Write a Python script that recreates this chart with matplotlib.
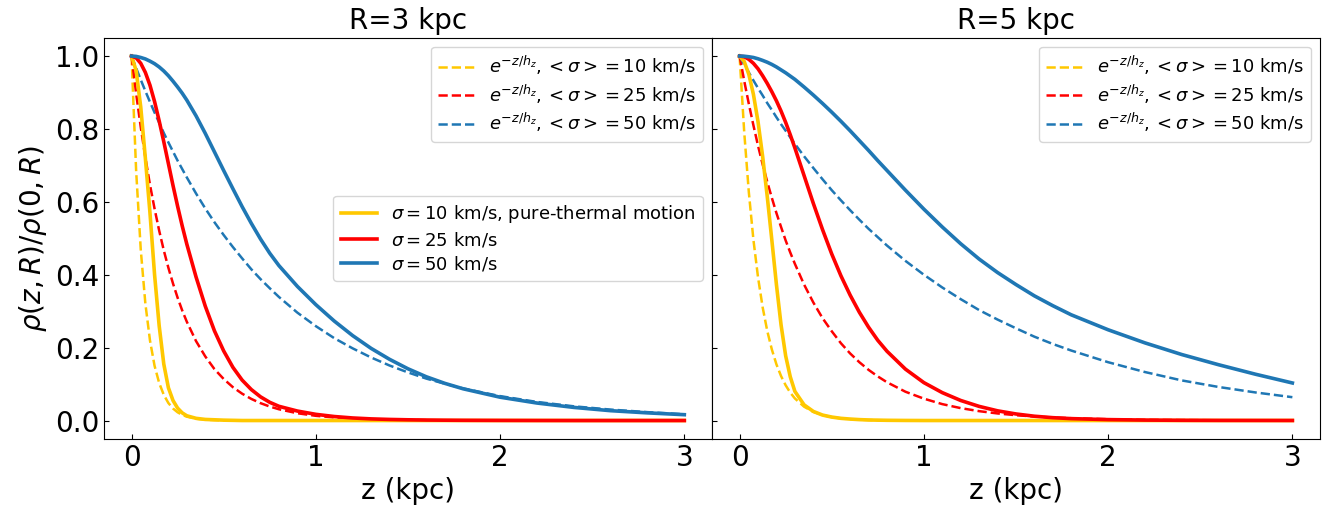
import matplotlib
matplotlib.use("Agg")
import matplotlib.pyplot as plt

z = [0, 0.025, 0.05, 0.075, 0.1, 0.125, 0.15, 0.175, 0.2, 0.225, 0.25, 0.275, 0.3, 0.35, 0.4, 0.45,
     0.5, 0.55, 0.6, 0.65, 0.7, 0.75, 0.8, 0.9, 1.0, 1.1, 1.2, 1.3, 1.4, 1.5, 1.6, 1.7, 1.8, 2.0,
     2.2, 2.4, 2.6, 2.8, 3.0]

# R = 3 kpc, dashed = exponential, solid = model
r3_exp10 = [1.0, 0.685, 0.469, 0.321, 0.220, 0.150, 0.103, 0.0705, 0.048, 0.033, 0.0226, 0.0155, 0.0106,
            0.005, 0.0023, 0.0011, 0.0005, 0.0002, 0.0001, 0, 0, 0, 0, 0, 0, 0, 0, 0, 0, 0, 0, 0, 0, 0,
            0, 0, 0, 0, 0]
r3_exp25 = [1.0, 0.897, 0.805, 0.722, 0.647, 0.581, 0.521, 0.467, 0.419, 0.376, 0.337, 0.302, 0.271,
            0.218, 0.176, 0.141, 0.114, 0.0915, 0.0737, 0.0593, 0.0477, 0.0384, 0.0309, 0.020, 0.0129,
            0.0084, 0.0054, 0.0035, 0.0023, 0.0015, 0.001, 0.0006, 0.0004, 0.0002, 0.0001, 0, 0, 0, 0]
r3_exp50 = [1.0, 0.967, 0.935, 0.904, 0.874, 0.845, 0.817, 0.789, 0.763, 0.738, 0.713, 0.690, 0.667,
            0.623, 0.582, 0.544, 0.509, 0.476, 0.445, 0.415, 0.388, 0.363, 0.339, 0.296, 0.259, 0.226,
            0.198, 0.173, 0.151, 0.132, 0.115, 0.101, 0.088, 0.067, 0.051, 0.039, 0.030, 0.023, 0.017]
r3_sig10 = [1.0, 0.96, 0.86, 0.72, 0.57, 0.40, 0.26, 0.155, 0.09, 0.055, 0.034, 0.021, 0.013,
            0.006, 0.003, 0.002, 0.001, 0.0005, 0, 0, 0, 0, 0, 0, 0, 0, 0, 0, 0, 0, 0, 0, 0, 0,
            0, 0, 0, 0, 0]
r3_sig25 = [1.0, 0.995, 0.98, 0.955, 0.92, 0.875, 0.822, 0.765, 0.705, 0.645, 0.588, 0.534, 0.484,
            0.394, 0.314, 0.246, 0.191, 0.146, 0.111, 0.085, 0.065, 0.05, 0.039, 0.026, 0.017, 0.011,
            0.007, 0.0045, 0.003, 0.002, 0.0013, 0.0009, 0.0006, 0.0003, 0.0001, 0, 0, 0, 0]
r3_sig50 = [1.0, 0.999, 0.996, 0.992, 0.986, 0.979, 0.97, 0.959, 0.946, 0.931, 0.915, 0.898, 0.879,
            0.836, 0.788, 0.737, 0.686, 0.636, 0.587, 0.541, 0.498, 0.459, 0.425, 0.368, 0.318, 0.273,
            0.233, 0.198, 0.168, 0.142, 0.12, 0.102, 0.087, 0.064, 0.048, 0.036, 0.027, 0.021, 0.016]

# R = 5 kpc
r5_exp10 = [1.0, 0.792, 0.627, 0.496, 0.393, 0.311, 0.246, 0.195, 0.154, 0.122, 0.0967, 0.0765, 0.0606,
            0.038, 0.0238, 0.0149, 0.0093, 0.0059, 0.0037, 0.0023, 0.0014, 0.0009, 0.0006, 0.0002, 0.0001,
            0, 0, 0, 0, 0, 0, 0, 0, 0, 0, 0, 0, 0, 0]
r5_exp25 = [1.0, 0.932, 0.869, 0.810, 0.754, 0.703, 0.655, 0.611, 0.569, 0.531, 0.494, 0.461, 0.430,
            0.373, 0.324, 0.281, 0.245, 0.212, 0.184, 0.160, 0.139, 0.121, 0.105, 0.079, 0.060, 0.045,
            0.034, 0.0257, 0.0194, 0.0146, 0.011, 0.0083, 0.0063, 0.0036, 0.002, 0.0012, 0.0007, 0.0004,
            0.0002]
r5_exp50 = [1.0, 0.977, 0.955, 0.933, 0.912, 0.892, 0.871, 0.852, 0.832, 0.813, 0.795, 0.777, 0.759,
            0.725, 0.693, 0.662, 0.632, 0.604, 0.577, 0.551, 0.526, 0.503, 0.480, 0.438, 0.400, 0.365,
            0.333, 0.303, 0.277, 0.253, 0.230, 0.210, 0.192, 0.160, 0.133, 0.110, 0.092, 0.077, 0.064]
r5_sig10 = [1.0, 0.985, 0.95, 0.895, 0.82, 0.725, 0.615, 0.495, 0.3725, 0.2625, 0.1775, 0.12, 0.08,
            0.043, 0.025, 0.015, 0.0095, 0.006, 0.004, 0.0025, 0.0015, 0.001, 0.0006, 0.0002, 0,
            0, 0, 0, 0, 0, 0, 0, 0, 0, 0, 0, 0, 0, 0]
r5_sig25 = [1.0, 0.998, 0.991, 0.98, 0.965, 0.946, 0.925, 0.902, 0.877, 0.849, 0.818, 0.784, 0.748,
            0.672, 0.596, 0.524, 0.457, 0.397, 0.344, 0.297, 0.256, 0.22, 0.19, 0.141, 0.104, 0.0765,
            0.055, 0.0388, 0.0266, 0.018, 0.0118, 0.0078, 0.0052, 0.0025, 0.0012, 0.0006, 0.0003, 0.0002,
            0.0001]
r5_sig50 = [1.0, 0.9995, 0.998, 0.996, 0.9925, 0.988, 0.983, 0.977, 0.97, 0.962, 0.954, 0.945, 0.936,
            0.915, 0.893, 0.87, 0.846, 0.821, 0.795, 0.768, 0.741, 0.713, 0.686, 0.632, 0.58, 0.531,
            0.485, 0.443, 0.406, 0.373, 0.342, 0.315, 0.290, 0.249, 0.213, 0.181, 0.153, 0.127, 0.103]

sigmas = [10, 25, 50]
colors = ['#FFC800', '#FF0000', '#1f77b4']
titles = ['R=3 kpc', 'R=5 kpc']
panels = [
    ([r3_exp10, r3_exp25, r3_exp50], [r3_sig10, r3_sig25, r3_sig50]),
    ([r5_exp10, r5_exp25, r5_exp50], [r5_sig10, r5_sig25, r5_sig50]),
]

fig, axes = plt.subplots(1, 2, figsize=(13.32, 5.18), dpi=100, sharey=True)
fig.subplots_adjust(left=0.078, right=0.991, top=0.927, bottom=0.153, wspace=0)

for i, ax in enumerate(axes):
    exps, sols = panels[i]
    dashed = []
    solid = []
    for j in range(3):
        l, = ax.plot(z, exps[j], '--', color=colors[j], lw=1.8,
                     label=r'$e^{-z/h_z}, <\sigma>=%d$ km/s' % sigmas[j])
        dashed.append(l)
    for j in range(3):
        lab = r'$\sigma=%d$ km/s' % sigmas[j]
        if j == 0:
            lab += ', pure-thermal motion'
        l, = ax.plot(z, sols[j], '-', color=colors[j], lw=2.6, label=lab)
        solid.append(l)
    leg1 = ax.legend(handles=dashed, loc='upper right', fontsize=13, labelspacing=0.3)
    if i == 0:
        ax.add_artist(leg1)
        ax.legend(handles=solid, loc='center right', fontsize=13, labelspacing=0.3)
    ax.set_title(titles[i], fontsize=20)
    ax.set_xlabel('z (kpc)', fontsize=20)
    ax.tick_params(direction='in', labelsize=20)
    ax.set_xticks([0, 1, 2, 3])
    ax.set_yticks([0.0, 0.2, 0.4, 0.6, 0.8, 1.0])

axes[0].set_ylabel(r'$\rho(z,R)/\rho(0,R)$', fontsize=20)

plt.savefig('out.png')
